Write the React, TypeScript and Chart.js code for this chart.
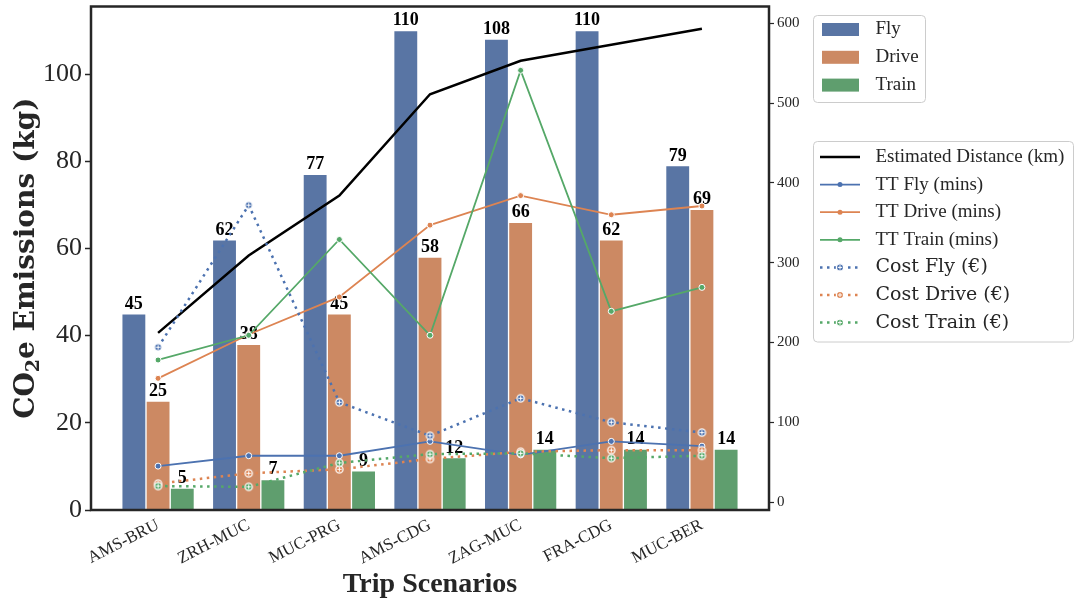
import React, { useEffect, useRef } from 'react';
import { Chart, registerables } from 'chart.js';

Chart.register(...registerables);

const categories = ['AMS-BRU', 'ZRH-MUC', 'MUC-PRG', 'AMS-CDG', 'ZAG-MUC', 'FRA-CDG', 'MUC-BER'];
const co2Fly = [45, 62, 77, 110, 108, 110, 79];
const co2Drive = [25, 38, 45, 58, 66, 62, 69];
const co2Train = [5, 7, 9, 12, 14, 14, 14];
const distanceKm = [212, 309, 384, 511, 553, 573, 593];
const ttFly = [45, 58, 58, 76, 59, 76, 70];
const ttDrive = [155, 210, 257, 347, 384, 360, 371];
const ttTrain = [178, 209, 329, 209, 541, 239, 269];
const costFly = [194, 372, 125, 83, 130, 100, 87];
const costDrive = [23, 36, 41, 54, 63, 65, 65];
const costTrain = [20, 19, 49, 60, 61, 55, 58];
const leftTicks = [0, 20, 40, 60, 80, 100];
const rightTicks = [0, 100, 200, 300, 400, 500, 600];

const BAR_FLY = '#5975A4';
const BAR_DRIVE = '#CC8963';
const BAR_TRAIN = '#5F9E6E';
const C_BLUE = '#4C72B0';
const C_ORANGE = '#DD8452';
const C_GREEN = '#55A868';
const INK = '#262626';
const SERIF = '"Liberation Serif", "Times New Roman", serif';
const DJV = '"DejaVu Serif", serif';

const pts = (arr: number[]) => arr.map((v, i) => ({ x: i, y: v }));

function drawCostMarker(ctx: CanvasRenderingContext2D, x: number, y: number, color: string) {
  ctx.save();
  ctx.setLineDash([]);
  ctx.fillStyle = color;
  ctx.strokeStyle = '#ffffff';
  ctx.lineWidth = 1.3;
  ctx.beginPath();
  ctx.arc(x, y, 3.6, 0, Math.PI * 2);
  ctx.fill();
  ctx.stroke();
  ctx.lineWidth = 1;
  ctx.beginPath();
  ctx.moveTo(x - 2.2, y); ctx.lineTo(x + 2.2, y);
  ctx.moveTo(x, y - 2.2); ctx.lineTo(x, y + 2.2);
  ctx.stroke();
  ctx.restore();
}

function makeCostMarker(color: string): HTMLCanvasElement {
  const c = document.createElement('canvas');
  c.width = 11;
  c.height = 11;
  const g = c.getContext('2d')!;
  drawCostMarker(g, 5.5, 5.5, color);
  return c;
}

function roundRectPath(ctx: CanvasRenderingContext2D, x: number, y: number, w: number, h: number, r: number) {
  ctx.beginPath();
  ctx.moveTo(x + r, y);
  ctx.lineTo(x + w - r, y);
  ctx.arcTo(x + w, y, x + w, y + r, r);
  ctx.lineTo(x + w, y + h - r);
  ctx.arcTo(x + w, y + h, x + w - r, y + h, r);
  ctx.lineTo(x + r, y + h);
  ctx.arcTo(x, y + h, x, y + h - r, r);
  ctx.lineTo(x, y + r);
  ctx.arcTo(x, y, x + r, y, r);
  ctx.closePath();
}

const decor = {
  id: 'decor',
  afterDatasetDraw(chart: any, args: any) {
    if (chart.data.datasets[args.index].label !== 'Fly') return;
    const ctx: CanvasRenderingContext2D = chart.ctx;
    const vals = [co2Fly, co2Drive, co2Train];
    ctx.save();
    ctx.font = 'bold 18px ' + SERIF;
    ctx.fillStyle = '#000';
    ctx.textAlign = 'center';
    ctx.textBaseline = 'alphabetic';
    for (let d = 0; d < 3; d++) {
      const meta = chart.getDatasetMeta(d);
      meta.data.forEach((el: any, i: number) => {
        ctx.fillText(String(vals[d][i]), el.x, el.y - 5);
      });
    }
    ctx.restore();
  },
  afterDraw(chart: any) {
    const ctx: CanvasRenderingContext2D = chart.ctx;
    const a = chart.chartArea;
    ctx.save();
    // frame
    ctx.strokeStyle = INK;
    ctx.lineWidth = 2.5;
    ctx.strokeRect(a.left, a.top, a.right - a.left, a.bottom - a.top);

    // x title
    ctx.fillStyle = INK;
    ctx.font = 'bold 28px ' + SERIF;
    ctx.textAlign = 'center';
    ctx.textBaseline = 'middle';
    ctx.fillText('Trip Scenarios', (a.left + a.right) / 2, 585);

    // y title with subscript
    ctx.save();
    ctx.translate(24, (a.top + a.bottom) / 2);
    ctx.rotate(-Math.PI / 2);
    const fMain = 'bold 28px ' + DJV;
    const fSub = 'bold 19px ' + DJV;
    ctx.font = fMain;
    const w1 = ctx.measureText('CO').width;
    const w3 = ctx.measureText('e Emissions (kg)').width;
    ctx.font = fSub;
    const w2 = ctx.measureText('2').width;
    const total = w1 + w2 + w3;
    const x0 = -total / 2;
    ctx.textAlign = 'left';
    ctx.textBaseline = 'alphabetic';
    ctx.font = fMain;
    ctx.fillText('CO', x0, 10);
    ctx.font = fSub;
    ctx.fillText('2', x0 + w1, 15);
    ctx.font = fMain;
    ctx.fillText('e Emissions (kg)', x0 + w1 + w2, 10);
    ctx.restore();

    // legend 1
    ctx.fillStyle = 'rgba(255,255,255,0.8)';
    ctx.strokeStyle = '#cccccc';
    ctx.lineWidth = 1;
    roundRectPath(ctx, 813.5, 15.5, 112, 87, 4);
    ctx.fill();
    ctx.stroke();
    const l1 = [
      { label: 'Fly', color: BAR_FLY },
      { label: 'Drive', color: BAR_DRIVE },
      { label: 'Train', color: BAR_TRAIN },
    ];
    ctx.font = '19px ' + SERIF;
    ctx.textAlign = 'left';
    ctx.textBaseline = 'middle';
    l1.forEach((it, k) => {
      const y = 29.5 + k * 27.8;
      ctx.fillStyle = it.color;
      ctx.fillRect(822, y - 6.5, 37, 13);
      ctx.fillStyle = INK;
      ctx.fillText(it.label, 875.5, y);
    });

    // legend 2
    ctx.fillStyle = 'rgba(255,255,255,0.8)';
    ctx.strokeStyle = '#cccccc';
    roundRectPath(ctx, 813.5, 141.5, 260, 200.5, 4);
    ctx.fill();
    ctx.stroke();
    const l2 = [
      { label: 'Estimated Distance (km)', color: '#000', kind: 'solid', font: SERIF },
      { label: 'TT Fly (mins)', color: C_BLUE, kind: 'tt', font: SERIF },
      { label: 'TT Drive (mins)', color: C_ORANGE, kind: 'tt', font: SERIF },
      { label: 'TT Train (mins)', color: C_GREEN, kind: 'tt', font: SERIF },
      { label: 'Cost Fly (€)', color: C_BLUE, kind: 'cost', font: DJV },
      { label: 'Cost Drive (€)', color: C_ORANGE, kind: 'cost', font: DJV },
      { label: 'Cost Train (€)', color: C_GREEN, kind: 'cost', font: DJV },
    ];
    l2.forEach((it, k) => {
      const y = 157 + k * 27.6;
      ctx.save();
      ctx.strokeStyle = it.color;
      if (it.kind === 'solid') {
        ctx.lineWidth = 2.5;
        ctx.beginPath(); ctx.moveTo(820, y); ctx.lineTo(860, y); ctx.stroke();
      } else if (it.kind === 'tt') {
        ctx.lineWidth = 1.8;
        ctx.beginPath(); ctx.moveTo(820, y); ctx.lineTo(860, y); ctx.stroke();
        ctx.fillStyle = it.color;
        ctx.beginPath(); ctx.arc(840, y, 2.5, 0, Math.PI * 2); ctx.fill();
      } else {
        ctx.lineWidth = 2.5;
        ctx.setLineDash([2.5, 4.5]);
        ctx.beginPath(); ctx.moveTo(820, y); ctx.lineTo(860, y); ctx.stroke();
        drawCostMarker(ctx, 840, y, it.color);
      }
      ctx.restore();
      ctx.fillStyle = INK;
      ctx.font = '19px ' + it.font;
      ctx.textAlign = 'left';
      ctx.textBaseline = 'middle';
      ctx.fillText(it.label, 875.5, y);
    });
    ctx.restore();
  },
};

export default function App() {
  const ref = useRef<HTMLCanvasElement | null>(null);
  useEffect(() => {
    if (!ref.current) return;
    const barDs = (label: string, data: number[], color: string) => ({
      type: 'bar' as const,
      label,
      data: pts(data),
      backgroundColor: color,
      borderColor: '#ffffff',
      borderWidth: 1,
      barThickness: 24.2,
      yAxisID: 'y',
      order: 10,
    });
    const ttDs = (label: string, data: number[], color: string, order: number) => ({
      type: 'line' as const,
      label,
      data: pts(data),
      borderColor: color,
      borderWidth: 1.8,
      tension: 0,
      pointRadius: 3,
      pointBackgroundColor: color,
      pointBorderColor: '#ffffff',
      pointBorderWidth: 1,
      yAxisID: 'y1',
      order,
    });
    const costDs = (label: string, data: number[], color: string, order: number) => ({
      type: 'line' as const,
      label,
      data: pts(data),
      borderColor: color,
      borderWidth: 2.5,
      borderDash: [2.5, 4.5],
      tension: 0,
      pointStyle: makeCostMarker(color),
      pointRadius: 4,
      yAxisID: 'y1',
      order,
    });
    const chart = new Chart(ref.current, {
      data: {
        datasets: [
          barDs('Fly', co2Fly, BAR_FLY),
          barDs('Drive', co2Drive, BAR_DRIVE),
          barDs('Train', co2Train, BAR_TRAIN),
          {
            type: 'line' as const,
            label: 'Estimated Distance (km)',
            data: pts(distanceKm),
            borderColor: '#000000',
            borderWidth: 2.5,
            tension: 0,
            pointRadius: 0,
            yAxisID: 'y1',
            order: 7,
          },
          ttDs('TT Fly (mins)', ttFly, C_BLUE, 6),
          ttDs('TT Drive (mins)', ttDrive, C_ORANGE, 5),
          ttDs('TT Train (mins)', ttTrain, C_GREEN, 4),
          costDs('Cost Fly (€)', costFly, C_BLUE, 3),
          costDs('Cost Drive (€)', costDrive, C_ORANGE, 2),
          costDs('Cost Train (€)', costTrain, C_GREEN, 1),
        ] as any,
      },
      options: {
        animation: false,
        responsive: false,
        maintainAspectRatio: false,
        layout: { padding: { top: 5, left: 0, right: 0, bottom: 0 } },
        plugins: { legend: { display: false }, tooltip: { enabled: false } },
        scales: {
          x: {
            type: 'linear',
            offset: false,
            min: -0.74,
            max: 6.74,
            afterBuildTicks: (s: any) => { s.ticks = categories.map((_, i) => ({ value: i })); },
            afterFit: (s: any) => { s.height = 95; s.paddingLeft = 0; s.paddingRight = 0; },
            grid: { display: false, offset: false },
            border: { display: false },
            ticks: {
              autoSkip: false,
              minRotation: 27,
              maxRotation: 27,
              padding: -3,
              color: INK,
              font: { family: SERIF, size: 17 },
              callback: (v: any) => categories[v] ?? '',
            },
          },
          y: {
            position: 'left',
            min: 0,
            max: 115.5,
            afterBuildTicks: (s: any) => { s.ticks = leftTicks.map((v) => ({ value: v })); },
            afterFit: (s: any) => { s.width = 91; s.paddingTop = 0; s.paddingBottom = 0; },
            grid: { display: true, drawOnChartArea: false, drawTicks: true, tickLength: 6, tickColor: INK, tickWidth: 1.5 },
            border: { display: false },
            ticks: { padding: 3, color: INK, font: { family: SERIF, size: 26 } },
          },
          y1: {
            position: 'right',
            min: -10,
            max: 621,
            afterBuildTicks: (s: any) => { s.ticks = rightTicks.map((v) => ({ value: v })); },
            afterFit: (s: any) => { s.width = 306; s.paddingTop = 0; s.paddingBottom = 0; },
            grid: { display: true, drawOnChartArea: false, drawTicks: true, tickLength: 5, tickColor: INK, tickWidth: 1.2 },
            border: { display: false },
            ticks: { padding: 3, color: INK, font: { family: SERIF, size: 15 } },
          },
        },
      } as any,
      plugins: [decor],
    });
    return () => chart.destroy();
  }, []);
  return (
    <div style={{ position: 'fixed', left: 0, top: 0, width: 1075, height: 605, background: '#fff' }}>
      <canvas ref={ref} width={1075} height={605} style={{ display: 'block', width: 1075, height: 605 }} />
    </div>
  );
}
